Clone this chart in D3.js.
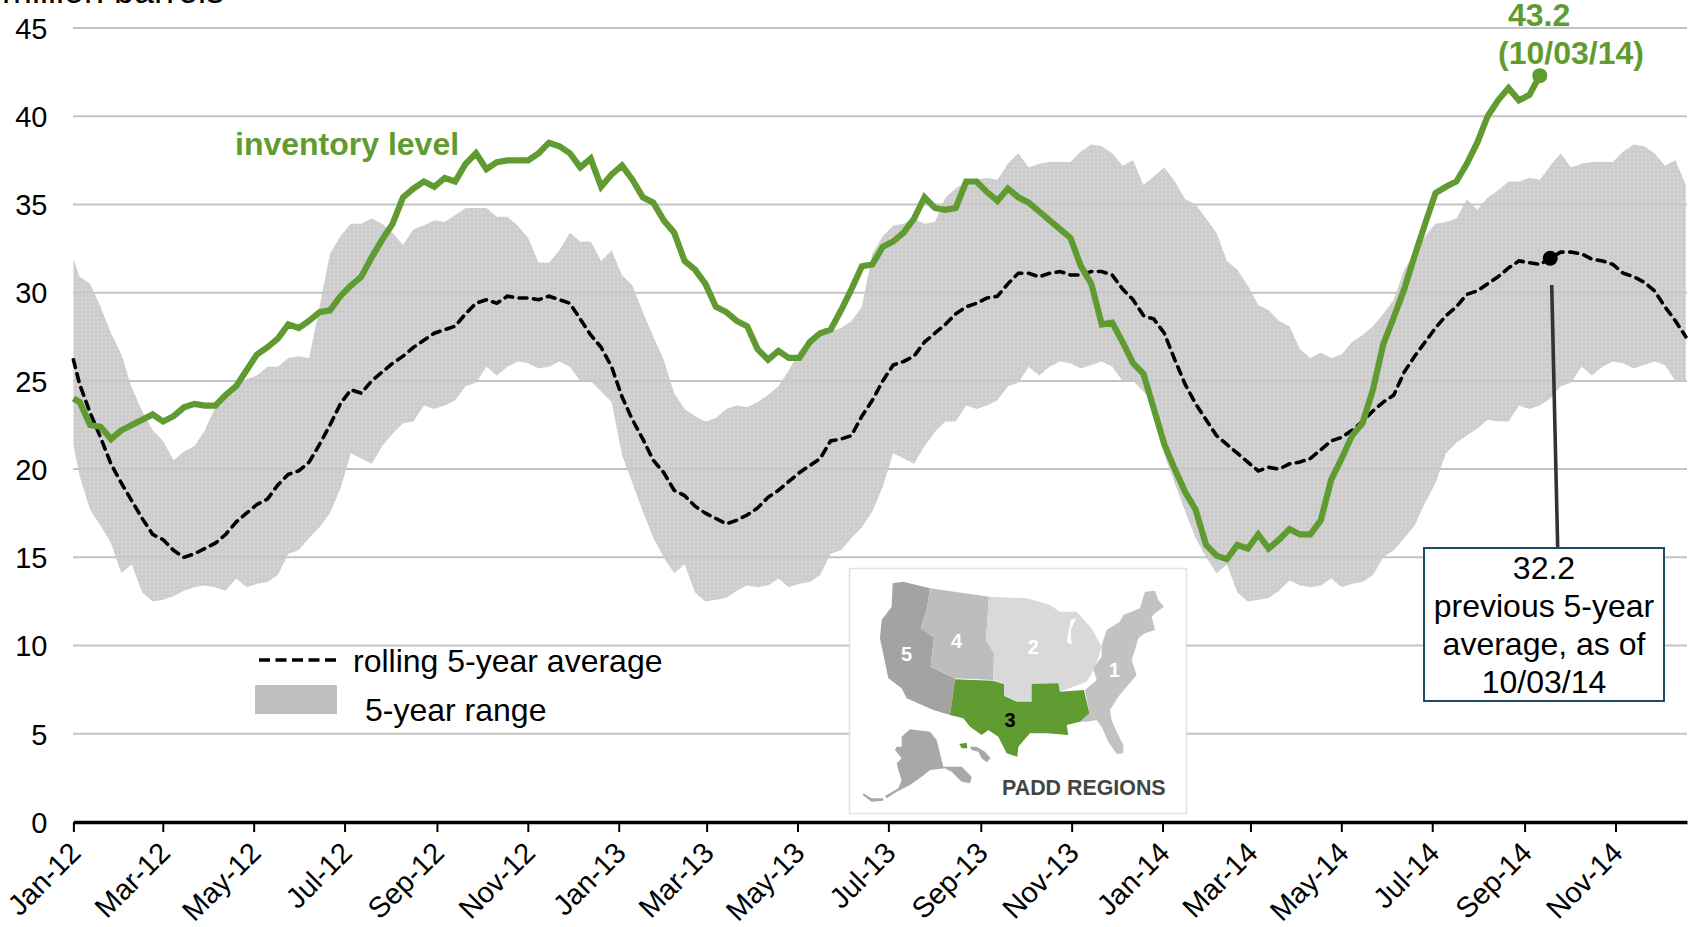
<!DOCTYPE html>
<html>
<head>
<meta charset="utf-8">
<script src="https://cdn.jsdelivr.net/npm/d3@7/dist/d3.min.js"></script>
<style>
html,body{margin:0;padding:0;background:#fff;overflow:hidden}
svg{display:block;font-family:"Liberation Sans",Arial,sans-serif}
</style>
</head>
<body>
<svg id="chart" width="1692" height="927"></svg>
<script>
const yTicks = [0,5,10,15,20,25,30,35,40,45];
const xTickMonths = [[2012,0],[2012,2],[2012,4],[2012,6],[2012,8],[2012,10],[2013,0],[2013,2],[2013,4],[2013,6],[2013,8],[2013,10],[2014,0],[2014,2],[2014,4],[2014,6],[2014,8],[2014,10]];

const rangeHigh = [31.9,30.9,30.5,29.2,27.7,26.5,24.6,23.3,22.2,21.6,20.5,21.0,21.3,22.2,23.5,24.2,24.7,25.1,25.3,25.8,25.8,26.3,26.4,26.3,29.2,32.2,33.2,33.9,33.9,34.2,33.9,33.4,32.7,
33.6,33.8,34.1,34.0,34.4,34.8,34.8,34.8,34.3,34.3,33.8,33.1,31.7,31.7,32.4,33.4,32.9,32.9,31.8,32.4,31.0,30.4,28.9,27.5,26.2,24.3,23.4,23.0,22.7,22.9,23.4,
23.6,23.5,23.8,24.2,24.7,25.6,26.7,27.4,27.7,27.8,28.0,28.4,29.2,32.2,33.2,33.8,33.9,34.2,33.9,34.0,35.4,35.9,36.3,36.4,36.5,36.4,37.3,37.9,37.1,37.3,37.4,37.4,
37.4,38.0,38.4,38.3,37.9,37.2,37.5,36.1,36.6,37.1,36.3,35.3,35.0,34.2,33.4,31.8,31.3,30.4,29.3,29.0,28.4,28.1,26.8,26.3,26.6,26.3,26.5,27.2,27.6,28.1,28.8,29.6,
31.3,32.3,33.2,33.9,34.0,34.2,35.3,34.7,35.4,35.8,36.3,36.3,36.5,36.4,37.2,37.9,37.1,37.3,37.4,37.4,37.4,38.0,38.4,38.3,37.9,37.2,37.5,36.1];

const rangeLow = [21.4,19.6,17.7,16.8,15.8,14.1,14.6,13.0,12.5,12.6,12.8,13.1,13.3,13.4,13.3,13.1,13.8,13.3,13.5,13.6,14.0,15.2,15.4,16.1,16.7,17.5,18.9,20.9,20.6,20.3,21.3,22.0,22.6,
22.7,23.6,23.4,23.6,23.9,24.7,24.9,25.8,25.3,25.8,26.1,26.0,25.7,25.8,26.1,25.8,25.0,25.0,24.4,23.8,20.8,19.2,17.6,16.1,15.0,14.1,14.6,13.0,12.5,12.6,12.7,
13.1,13.4,13.3,13.4,13.8,13.3,13.5,13.6,14.0,15.2,15.4,16.1,16.7,17.6,19.0,20.9,20.6,20.3,21.3,22.1,22.7,22.7,23.6,23.4,23.6,23.9,24.7,24.9,25.8,25.3,25.8,26.1,
26.0,25.7,25.9,26.1,25.8,25.0,25.0,24.4,23.7,20.8,19.2,17.6,16.1,15.0,14.1,14.6,13.0,12.5,12.6,12.7,13.1,13.7,13.4,13.3,13.4,13.8,13.3,13.5,13.6,14.0,15.0,15.4,
16.1,16.8,18.1,19.2,20.9,21.5,21.9,22.3,22.8,22.7,22.7,23.6,23.4,23.6,24.0,24.7,24.9,25.8,25.3,25.8,26.1,26.0,25.7,25.9,26.1,25.9,25.0,25.0];

const rollingAverage = [26.2,24.8,23.2,21.8,20.3,19.2,18.2,17.2,16.3,16.0,15.4,15.0,15.2,15.5,15.8,16.3,17.0,17.5,18.0,18.3,19.1,19.7,19.9,20.4,21.4,22.5,23.7,24.5,24.3,25.0,25.5,26.0,26.4,
26.9,27.3,27.7,27.9,28.1,28.8,29.4,29.6,29.4,29.8,29.7,29.7,29.6,29.8,29.6,29.4,28.5,27.6,26.9,25.8,24.1,22.8,21.7,20.5,19.8,18.8,18.5,17.9,17.5,17.2,16.9,
17.1,17.4,17.8,18.4,18.8,19.3,19.8,20.2,20.6,21.6,21.7,21.9,23.0,23.9,25.0,25.9,26.1,26.4,27.2,27.7,28.2,28.8,29.2,29.4,29.7,29.8,30.5,31.1,31.1,30.9,31.1,31.2,
31.0,31.0,31.2,31.2,31.0,30.2,29.6,28.7,28.5,27.7,26.2,24.8,23.7,22.8,21.9,21.4,20.9,20.4,19.9,20.1,20.0,20.3,20.4,20.6,21.1,21.6,21.8,22.2,22.7,23.3,23.8,24.2,
25.5,26.4,27.2,28.0,28.7,29.2,29.9,30.1,30.5,30.9,31.4,31.8,31.7,31.6,31.95,32.3,32.3,32.2,31.9,31.8,31.6,31.1,30.9,30.6,30.1,29.2,28.4,27.5];

const inventoryLevel = [24.0,23.8,22.5,22.4,21.7,22.2,22.5,22.8,23.1,22.7,23.0,23.5,23.7,23.6,23.6,24.2,24.7,25.6,26.5,26.9,27.4,28.2,28.0,28.4,28.9,29.0,29.8,30.4,30.9,32.0,33.0,33.9,35.4,
35.9,36.3,36.0,36.5,36.3,37.3,37.9,37.0,37.4,37.5,37.5,37.5,37.9,38.5,38.3,37.9,37.1,37.6,36.0,36.7,37.2,36.4,35.4,35.1,34.1,33.4,31.8,31.3,30.5,29.2,28.9,
28.4,28.1,26.8,26.2,26.7,26.3,26.3,27.2,27.7,27.9,29.0,30.2,31.5,31.6,32.6,32.9,33.4,34.2,35.4,34.8,34.7,34.8,36.3,36.3,35.7,35.2,35.9,35.4,35.1,34.6,34.1,33.6,
33.1,31.5,30.5,28.2,28.3,27.2,26.0,25.4,23.4,21.4,20.0,18.7,17.7,15.7,15.1,14.9,15.7,15.5,16.3,15.5,16.0,16.6,16.3,16.3,17.1,19.4,20.6,21.9,22.6,24.5,27.1,28.6,
30.2,32.1,33.9,35.65,36.0,36.3,37.3,38.5,40.0,40.9,41.6,40.9,41.2,42.3];

const legendAverage = "rolling 5-year average";
const legendRange = "5-year range";
const inventoryLabel = "inventory level";
const latestLabel = ["43.2","(10/03/14)"];
const calloutLabel = ["32.2","previous 5-year","average, as of","10/03/14"];
const calloutIndex = 142;

const GREEN = "#5f9b30";
const svg = d3.select("#chart");
const F = 32;

const weekDates = [new Date(2012,0,1)].concat(rangeHigh.slice(1).map((_,k)=>d3.timeDay.offset(new Date(2012,0,5,5),7*k)));
const x = d3.scaleTime().domain([new Date(2012,0,1),new Date(2014,11,19)]).range([73.4,1687]);
const y = d3.scaleLinear().domain([0,45]).range([822,28]);

const defs = svg.append("defs");
const pat = defs.append("pattern").attr("id","dots").attr("patternUnits","userSpaceOnUse").attr("width",4).attr("height",4);
pat.append("rect").attr("width",4).attr("height",4).attr("fill","#c6c6c6");
pat.append("rect").attr("x",1).attr("y",1).attr("width",1.2).attr("height",1.2).attr("fill","#dedede");

// gridlines
svg.append("g").selectAll("line").data(yTicks.filter(d=>d>0)).join("line")
  .attr("x1",73).attr("x2",1687).attr("y1",d=>y(d)).attr("y2",d=>y(d))
  .attr("stroke","#c3c3c3").attr("stroke-width",2);

// title (runs off the page top, as in the reference)
svg.append("text").attr("x",2).attr("y",3).attr("font-size",36).attr("fill","#000").text("million barrels");

// range band
const bandData = weekDates.map((d,i)=>({d,hi:rangeHigh[i],lo:rangeLow[i]}));
svg.append("path").datum(bandData)
  .attr("d",d3.area().x(p=>x(p.d)).y0(p=>y(p.lo)).y1(p=>y(p.hi)))
  .attr("fill","url(#dots)").attr("fill-opacity",0.88);

// y axis
const yAxis = svg.append("g").attr("transform","translate(73.4,1)")
  .call(d3.axisLeft(y).tickValues(yTicks).tickSize(0).tickPadding(26));
yAxis.select(".domain").remove();
yAxis.selectAll("text").attr("font-size",29).attr("font-family","inherit").attr("fill","#000");

// x axis
const xAxis = svg.append("g").attr("transform","translate(0,822)")
  .call(d3.axisBottom(x).tickValues(xTickMonths.map(m=>new Date(m[0],m[1],1))).tickFormat(d3.timeFormat("%b-%y")).tickSizeOuter(0).tickSizeInner(10));
xAxis.select(".domain").attr("stroke","#000").attr("stroke-width",3.5);
xAxis.selectAll(".tick line").attr("stroke","#000").attr("stroke-width",2);
xAxis.selectAll(".tick text").attr("font-size",29).attr("font-family","inherit").attr("fill","#000")
  .attr("text-anchor","end").attr("transform","translate(0,24) rotate(-45)").attr("dy",0).attr("y",12).attr("x",0);

// inset map
const map = svg.append("g");
map.append("rect").attr("x",849.5).attr("y",568.5).attr("width",337).attr("height",245).attr("fill","#fff").attr("stroke","#e2e2e2").attr("stroke-width",1.5);
const g = map.append("g").attr("transform","translate(830,550) scale(0.3333)");
const mapRegions = [
 {c:"#a3a3a3",p:"M188,100 L220,95 L300,115 L290,180 L272,235 L312,262 L302,350 L375,385 L360,495 L310,480 L230,445 L215,415 L175,385 L150,265 L155,210 L185,170Z"},
 {c:"#bdbdbd",p:"M300,115 L477,140 L468,270 L492,310 L490,390 L375,385 L302,350 L312,262 L272,235 L290,180Z"},
 {c:"#d9d9d9",p:"M477,140 L590,145 L660,165 L690,185 L740,185 L785,235 L815,290 L795,355 L770,395 L690,425 L685,400 L605,405 L605,455 L560,455 L522,435 L522,400 L490,390 L492,310 L468,270Z"},
 {c:"#c2c2c2",p:"M945,125 L975,122 L985,150 L1002,170 L975,190 L965,200 L975,240 L945,250 L925,265 L915,300 L905,330 L920,375 L890,410 L865,440 L840,480 L845,510 L860,545 L880,585 L880,610 L860,612 L835,575 L815,530 L800,510 L770,515 L750,515 L778,490 L765,420 L800,390 L790,355 L815,320 L815,285 L830,240 L870,215 L880,195 L930,175 L940,140Z"},
 {c:GREEN,p:"M375,388 L490,392 L522,402 L522,437 L560,455 L605,455 L605,402 L685,400 L690,425 L762,420 L778,490 L750,515 L710,525 L715,555 L650,550 L600,550 L565,590 L562,620 L530,610 L505,560 L475,540 L455,555 L420,530 L400,505 L360,495Z"},
 {c:"#a8a8a8",p:"M240,538 L300,545 L320,570 L340,650 L375,650 L395,650 L425,680 L420,700 L395,695 L365,665 L345,655 L300,660 L275,680 L240,705 L200,725 L170,745 L165,738 L205,715 L215,690 L205,660 L200,640 L215,625 L195,600 L200,590 L215,590 L215,560Z"},
 {c:"#a8a8a8",p:"M100,730 L125,745 L160,745 L160,752 L125,755 L98,735Z"},
 {c:"#a8a8a8",p:"M420,590 L440,590 L465,605 L482,625 L470,637 L455,625 L445,605 L425,600Z"},
 {c:GREEN,p:"M388,582 L410,578 L412,595 L395,595Z"},
 {c:"#fff",p:"M722,210 L738,205 L722,240 L725,285 L710,275Z"}
];
g.selectAll("path").data(mapRegions).join("path").attr("d",d=>d.p).attr("fill",d=>d.c);
const mapLabels = [["5",230,333,"#fff"],["4",380,293,"#fff"],["2",610,313,"#fff"],["1",853,381,"#fff"],["3",540,531,"#000"]];
g.selectAll("text").data(mapLabels).join("text").attr("x",d=>d[1]).attr("y",d=>d[2]).attr("fill",d=>d[3])
  .attr("text-anchor","middle").attr("font-weight","bold").attr("font-size",60).text(d=>d[0]);
map.append("text").attr("x",1002).attr("y",795).attr("font-size",21.4).attr("font-weight","bold").attr("fill","#444").text("PADD REGIONS");

// rolling average
svg.append("path").datum(rollingAverage)
  .attr("d",d3.line().x((_,i)=>x(weekDates[i])).y(d=>y(d)))
  .attr("fill","none").attr("stroke","#000").attr("stroke-width",3.6).attr("stroke-dasharray","8,6.5").attr("stroke-linecap","round");

// inventory
svg.append("path").datum(inventoryLevel)
  .attr("d",d3.line().x((_,i)=>x(weekDates[i])).y(d=>y(d)))
  .attr("fill","none").attr("stroke",GREEN).attr("stroke-width",6.2).attr("stroke-linejoin","miter");
const last = inventoryLevel.length-1;
svg.append("circle").attr("cx",x(weekDates[last])).attr("cy",y(inventoryLevel[last])).attr("r",7.5).attr("fill",GREEN);

// callout
const cx = x(weekDates[calloutIndex]), cy = y(rollingAverage[calloutIndex]);
svg.append("circle").attr("cx",cx).attr("cy",cy).attr("r",7.5).attr("fill","#000");
svg.append("line").attr("x1",1551.7).attr("y1",285).attr("x2",1557.7).attr("y2",548).attr("stroke","#333").attr("stroke-width",3.6);
svg.append("rect").attr("x",1424).attr("y",548).attr("width",240).attr("height",153).attr("fill","#fff").attr("stroke","#1b4d66").attr("stroke-width",2);
svg.append("g").selectAll("text").data(calloutLabel).join("text")
  .attr("x",1544).attr("y",(_,i)=>579+i*38).attr("text-anchor","middle").attr("font-size",F).attr("fill","#000").text(d=>d);

// series labels
svg.append("text").attr("x",235).attr("y",155).attr("font-size",F).attr("font-weight","bold").attr("fill",GREEN).text(inventoryLabel);
svg.append("text").attr("x",1508).attr("y",26).attr("font-size",F).attr("font-weight","bold").attr("fill",GREEN).text(latestLabel[0]);
svg.append("text").attr("x",1498).attr("y",64).attr("font-size",F).attr("font-weight","bold").attr("fill",GREEN).text(latestLabel[1]);

// legend
svg.append("line").attr("x1",259).attr("x2",337).attr("y1",660).attr("y2",660).attr("stroke","#000").attr("stroke-width",3.5).attr("stroke-dasharray","11,5.5");
svg.append("text").attr("x",353).attr("y",672).attr("font-size",F).attr("fill","#000").text(legendAverage);
svg.append("rect").attr("x",255).attr("y",685).attr("width",82).attr("height",29).attr("fill","#bfbfbf");
svg.append("text").attr("x",365).attr("y",721).attr("font-size",F).attr("fill","#000").text(legendRange);
</script>
</body>
</html>
